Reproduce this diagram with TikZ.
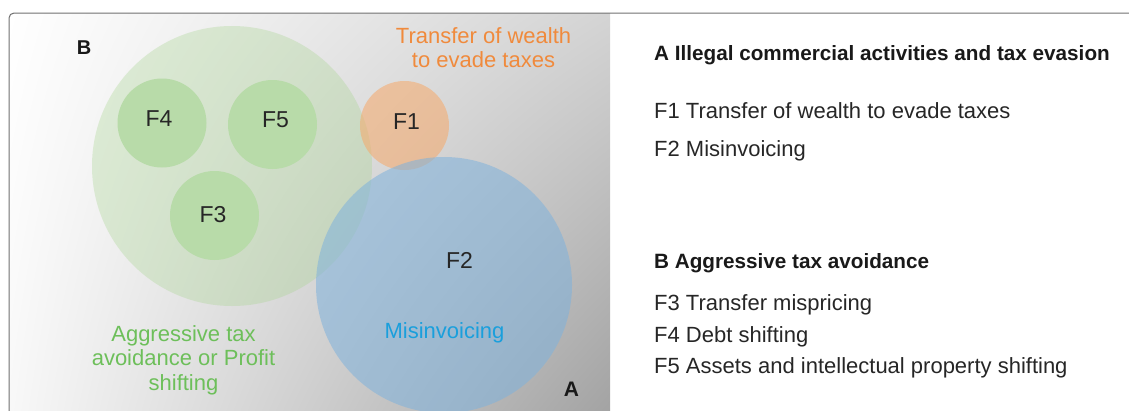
\documentclass[tikz,border=0pt]{standalone}
\usepackage{fontspec}
\setmainfont{Liberation Sans}
\usetikzlibrary{shadings}
\begin{document}
\begin{tikzpicture}[x=1pt,y=-1pt,
  txt/.style={font=\fontsize{22}{25}\selectfont, inner sep=0pt, anchor=base west, text=black!85},
  hdr/.style={font=\fontsize{20.7}{24}\bfseries, inner sep=0pt, anchor=base west, text=black!90},
  corner/.style={font=\fontsize{20}{24}\selectfont\bfseries, inner sep=0pt, anchor=base, text=black!90},
  flab/.style={font=\fontsize{23}{26}\selectfont, text=black!85, text opacity=1},
  bigcirc/.style={circle, inner sep=0pt, minimum size=280pt, fill=bgreen, fill opacity=0.33},
  smallcirc/.style={circle, inner sep=0pt, minimum size=89pt, fill=sgreen},
  orangecirc/.style={circle, inner sep=0pt, minimum size=89pt, fill=orfill, fill opacity=0.55},
  bluecirc/.style={circle, inner sep=0pt, minimum size=256pt, fill=blfill, fill opacity=0.55},
  ctext/.style={font=\fontsize{22}{24.5}\selectfont, align=center, inner sep=0pt, anchor=base}
]
\definecolor{bgreen}{HTML}{A8D490}
\definecolor{sgreen}{HTML}{B8DBA9}
\definecolor{orfill}{HTML}{F6A96A}
\definecolor{blfill}{HTML}{7FB2DC}
\definecolor{ortext}{HTML}{F08A3C}
\definecolor{grtext}{HTML}{6DBF5A}
\definecolor{bltext}{HTML}{1A9FDC}
\definecolor{frame}{HTML}{707070}
\definecolor{gUR}{HTML}{D4D4D4}
\definecolor{gLL}{HTML}{F8F8F8}
\definecolor{gLR}{HTML}{A2A2A2}
\useasboundingbox (0,0) rectangle (1129,410);
\clip (0,0) rectangle (1129,410);
% background gradient
\shade[upper left=white, upper right=gUR, lower left=gLL, lower right=gLR]
  (9,13) rectangle (610,420);
% frame
\draw[frame, line width=1pt, rounded corners=5pt] (9,420) -- (9,13) -- (1140,13);
% circles
\node[bigcirc] (Bc) at (232,166) {};
\node[smallcirc] (F4) at (162,123) {};
\node[smallcirc] (F5) at (272.5,124.5) {};
\node[smallcirc] (F3) at (214.5,215.5) {};
\node[orangecirc] (F1) at (404.5,125.5) {};
\node[bluecirc] (F2) at (444,285) {};
% circle labels
\node[flab] (F4l) at (159,118.5) {F4};
\node[flab] (F5l) at (275.5,119.5) {F5};
\node[flab] (F1l) at (406.5,121.5) {F1};
\node[flab] (F3l) at (213,214.5) {F3};
\node[flab] (F2l) at (459.5,260) {F2};
\node[ctext, text=bltext] (mis) at (444.5,338) {Misinvoicing};
\node[ctext, text=ortext] (tw) at (483.5,67.7) {Transfer of wealth\\to evade taxes};
\node[ctext, text=grtext] (ag) at (183.5,390) {Aggressive tax\\avoidance or Profit\\shifting};
\node[corner] (Bl) at (84,54) {B};
\node[corner, font=\fontsize{21}{24}\selectfont\bfseries] (Al) at (571.5,396) {A};
% right legend
\node[hdr] (hA) at (654,60) {A Illegal commercial activities and tax evasion};
\node[txt] (l1) at (654,118) {F1 Transfer of wealth to evade taxes};
\node[txt] (l2) at (654,156) {F2 Misinvoicing};
\node[hdr] (hB) at (654,268) {B Aggressive tax avoidance};
\node[txt] (l3) at (654,310) {F3 Transfer mispricing};
\node[txt] (l4) at (654,342) {F4 Debt shifting};
\node[txt] (l5) at (654,373) {F5 Assets and intellectual property shifting};
\end{tikzpicture}
\end{document}
